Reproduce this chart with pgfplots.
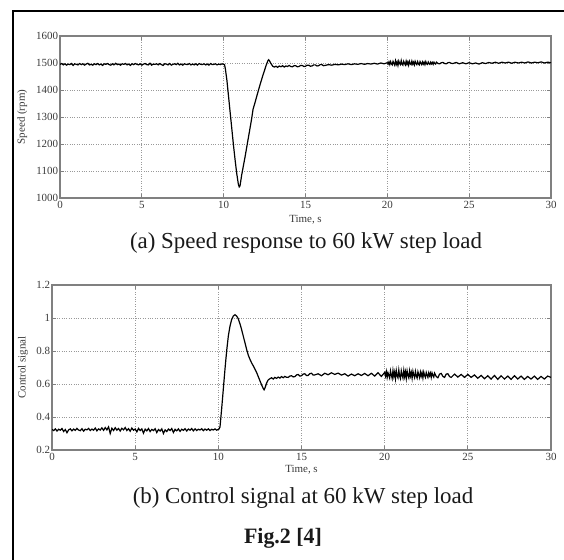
\documentclass[border=0pt]{standalone}
\usepackage{pgfplots}
\pgfplotsset{compat=1.18}
\usepackage{fontspec}
\setmainfont{Liberation Serif}
\definecolor{axgray}{HTML}{808080}
\definecolor{txtgray}{HTML}{3A3A3A}
\pgfplotsset{
  figstyle/.style={
    scale only axis,
    xmin=0, xmax=30,
    xtick={0,5,10,15,20,25,30},
    grid=major,
    major grid style={dotted, color=black!40, line width=0.7bp},
    axis line style={color=axgray, line width=1.2bp},
    tick style={color=axgray, line width=0.8bp},
    tick align=inside,
    major tick length=4bp,
    /pgf/number format/assume math mode=true,
    /pgf/number format/1000 sep={},
    tick label style={font=\fontsize{11}{13}\selectfont, text=txtgray},
    label style={font=\fontsize{11}{13}\selectfont, text=txtgray},
    yticklabel style={xshift=1.5bp},
  }
}
\begin{document}
\begin{tikzpicture}
\useasboundingbox (0,0) rectangle (564bp,560bp);
\draw[line width=1.2bp, black] (13bp,0bp) -- (13bp,549bp) -- (564bp,549bp);

% ---------- (a) speed ----------
\begin{axis}[figstyle,
  at={(60bp,362bp)}, anchor=south west,
  width=491bp, height=162bp,
  ymin=1000, ymax=1600,
  ytick={1000,1100,1200,1300,1400,1500,1600},
  xlabel={Time, s},
  xlabel style={at={(axis description cs:0.5,0)}, anchor=center, yshift=-22bp},
  ylabel={Speed (rpm)},
  ylabel style={at={(axis description cs:-0.077,0.5)}, anchor=center, rotate=0},
]
\addplot[black, line width=1.2bp] coordinates {
(0,1495)(0.1,1498)(0.2,1493)(0.3,1497)(0.4,1492)(0.5,1496)(0.6,1494)(0.7,1498)(0.8,1491)(0.9,1497)
(1.0,1495)(1.1,1493)(1.2,1498)(1.3,1494)(1.4,1497)(1.5,1492)(1.6,1496)(1.7,1499)(1.8,1493)(1.9,1495)
(2.0,1492)(2.1,1497)(2.2,1494)(2.3,1498)(2.4,1493)(2.5,1496)(2.6,1491)(2.7,1497)(2.8,1495)(2.9,1498)
(3.0,1494)(3.1,1492)(3.2,1497)(3.3,1493)(3.4,1499)(3.5,1494)(3.6,1496)(3.7,1492)(3.8,1497)(3.9,1495)
(4.0,1498)(4.1,1493)(4.2,1496)(4.3,1491)(4.4,1497)(4.5,1494)(4.6,1498)(4.7,1495)(4.8,1493)(4.9,1497)
(5.0,1492)(5.1,1496)(5.2,1498)(5.3,1494)(5.4,1493)(5.5,1499)(5.6,1492)(5.7,1496)(5.8,1495)(5.9,1497)
(6.0,1493)(6.1,1498)(6.2,1494)(6.3,1491)(6.4,1497)(6.5,1496)(6.6,1493)(6.7,1498)(6.8,1492)(6.9,1495)
(7.0,1497)(7.1,1494)(7.2,1499)(7.3,1493)(7.4,1496)(7.5,1492)(7.6,1497)(7.7,1495)(7.8,1494)(7.9,1498)
(8.0,1493)(8.1,1496)(8.2,1493)(8.3,1497)(8.4,1492)(8.5,1498)(8.6,1495)(8.7,1494)(8.8,1497)(8.9,1493)
(9.0,1496)(9.1,1492)(9.2,1498)(9.3,1494)(9.4,1495)(9.5,1497)(9.6,1493)(9.7,1496)(9.8,1494)(9.9,1497)
(10.0,1495)(10.05,1494)(10.1,1480)(10.2,1435)(10.3,1375)(10.4,1315)(10.5,1255)(10.6,1195)(10.7,1140)
(10.8,1090)(10.9,1050)(10.95,1041)(11.0,1045)(11.1,1085)(11.3,1150)(11.5,1220)(11.7,1290)(11.8,1330)
(11.9,1350)(12.0,1372)(12.2,1415)(12.4,1455)(12.6,1492)(12.7,1508)(12.75,1512)(12.8,1508)(12.9,1497)
(13.0,1488)(13.1,1485)
(13.2,1488)(13.3,1484)(13.4,1489)(13.5,1486)(13.6,1490)(13.7,1485)(13.8,1489)(13.9,1487)(14.0,1491)
(14.1,1487)(14.2,1486)(14.3,1490)(14.4,1490)(14.5,1486)(14.6,1487)(14.7,1491)(14.8,1491)(14.9,1487)
(15.0,1488)(15.1,1492)(15.2,1492)(15.3,1488)(15.4,1489)(15.5,1493)(15.6,1493)(15.7,1489)(15.8,1490)
(15.9,1494)(16.0,1494)(16.1,1490)(16.2,1491)(16.4,1494)(16.6,1492)(16.8,1495)(17.0,1493)(17.2,1496)
(17.4,1494)(17.6,1497)(17.8,1494)(18.0,1497)(18.2,1495)(18.4,1498)(18.6,1495)(18.8,1498)(19.0,1496)
(19.2,1499)(19.4,1496)(19.6,1500)(19.8,1497)(20.0,1501)
(20.05,1496)(20.1,1504)(20.15,1494)(20.2,1505)(20.25,1497)(20.3,1493)(20.35,1506)(20.4,1499)(20.45,1492)
(20.5,1508)(20.55,1495)(20.6,1504)(20.65,1491)(20.7,1507)(20.75,1498)(20.8,1494)(20.85,1509)(20.9,1496)
(20.95,1492)(21.0,1506)(21.05,1499)(21.1,1493)(21.15,1507)(21.2,1495)(21.25,1504)(21.3,1492)(21.35,1506)
(21.4,1497)(21.45,1494)(21.5,1507)(21.55,1496)(21.6,1503)(21.65,1493)(21.7,1506)(21.75,1498)(21.8,1494)
(21.85,1505)(21.9,1497)(21.95,1493)(22.0,1505)(22.05,1499)(22.1,1494)(22.15,1504)(22.2,1496)(22.25,1503)
(22.3,1494)(22.35,1505)(22.4,1497)(22.45,1495)(22.5,1504)(22.55,1498)(22.6,1495)(22.65,1503)(22.7,1497)
(22.75,1502)(22.8,1495)(22.85,1503)(22.9,1498)(22.95,1496)(23.0,1503)
(23.1,1498)(23.2,1497)(23.3,1501)(23.4,1502)(23.5,1498)(23.6,1497)(23.7,1501)(23.8,1502)(23.9,1499)
(24.0,1498)(24.2,1502)(24.4,1497)(24.6,1501)(24.8,1497)(25.0,1501)(25.2,1497)(25.4,1500)(25.6,1496)
(25.8,1501)(26.0,1498)(26.2,1502)(26.4,1499)(26.6,1503)(26.8,1499)(27.0,1503)(27.2,1500)(27.4,1503)
(27.6,1499)(27.8,1503)(28.0,1500)(28.2,1503)(28.4,1500)(28.6,1504)(28.8,1500)(29.0,1503)(29.2,1501)
(29.4,1504)(29.6,1500)(29.8,1503)(30.0,1501)
};
\end{axis}

% ---------- (b) control signal ----------
\begin{axis}[figstyle,
  at={(52bp,110bp)}, anchor=south west,
  width=499bp, height=165bp,
  ymin=0.2, ymax=1.2,
  ytick={0.2,0.4,0.6,0.8,1,1.2},
  yticklabels={0.2,0.4,0.6,0.8,1,1.2},
  xlabel={Time, s},
  xlabel style={at={(axis description cs:0.5,0)}, anchor=center, yshift=-20bp},
  ylabel={Control signal},
  ylabel style={at={(axis description cs:-0.058,0.5)}, anchor=center},
]
\addplot[black, line width=1.2bp] coordinates {
(0,0.325)(0.1,0.318)(0.2,0.328)(0.3,0.315)(0.4,0.326)(0.5,0.320)(0.6,0.330)(0.7,0.312)(0.8,0.324)(0.9,0.305)
(1.0,0.322)(1.1,0.328)(1.2,0.316)(1.3,0.327)(1.4,0.319)(1.5,0.331)(1.6,0.321)(1.7,0.317)(1.8,0.329)(1.9,0.314)
(2.0,0.326)(2.1,0.322)(2.2,0.331)(2.3,0.318)(2.4,0.327)(2.5,0.320)(2.6,0.333)(2.7,0.316)(2.8,0.328)(2.9,0.321)
(3.0,0.334)(3.1,0.319)(3.2,0.336)(3.3,0.322)(3.4,0.340)(3.5,0.300)(3.6,0.332)(3.7,0.318)(3.8,0.335)(3.9,0.320)
(4.0,0.330)(4.1,0.315)(4.2,0.332)(4.3,0.322)(4.4,0.336)(4.5,0.318)(4.6,0.329)(4.7,0.314)(4.8,0.333)(4.9,0.320)
(5.0,0.327)(5.1,0.310)(5.2,0.331)(5.3,0.318)(5.4,0.328)(5.5,0.302)(5.6,0.326)(5.7,0.316)(5.8,0.330)(5.9,0.312)
(6.0,0.325)(6.1,0.318)(6.2,0.329)(6.3,0.306)(6.4,0.324)(6.5,0.315)(6.6,0.328)(6.7,0.300)(6.8,0.322)(6.9,0.312)
(7.0,0.327)(7.1,0.318)(7.2,0.330)(7.3,0.306)(7.4,0.325)(7.5,0.316)(7.6,0.328)(7.7,0.313)(7.8,0.326)(7.9,0.319)
(8.0,0.329)(8.1,0.315)(8.2,0.327)(8.3,0.320)(8.4,0.330)(8.5,0.316)(8.6,0.328)(8.7,0.318)(8.8,0.326)(8.9,0.321)
(9.0,0.329)(9.1,0.317)(9.2,0.327)(9.3,0.320)(9.4,0.328)(9.5,0.318)(9.6,0.326)(9.7,0.321)(9.8,0.328)(9.9,0.320)
(10.0,0.325)(10.05,0.328)(10.1,0.34)(10.2,0.45)(10.3,0.57)(10.4,0.69)(10.5,0.80)(10.6,0.89)(10.7,0.95)
(10.8,0.99)(10.9,1.012)(11.0,1.02)(11.1,1.012)(11.2,0.995)(11.3,0.965)(11.4,0.93)(11.5,0.89)(11.6,0.85)
(11.7,0.81)(11.8,0.775)(11.9,0.75)(12.0,0.728)(12.1,0.71)(12.2,0.69)(12.3,0.67)(12.4,0.645)(12.5,0.62)
(12.6,0.595)(12.7,0.573)(12.75,0.565)(12.8,0.575)(12.9,0.605)(13.0,0.625)(13.1,0.632)
(13.2,0.638)(13.3,0.630)(13.4,0.640)(13.5,0.634)(13.6,0.642)(13.7,0.636)(13.8,0.645)(13.9,0.638)(14.0,0.646)
(14.1,0.641)(14.2,0.640)(14.3,0.648)(14.4,0.650)(14.5,0.643)(14.6,0.645)(14.7,0.655)(14.8,0.658)(14.9,0.648)
(15.0,0.650)(15.1,0.660)(15.2,0.662)(15.3,0.651)(15.4,0.652)(15.5,0.663)(15.6,0.665)(15.7,0.654)(15.8,0.655)
(16.0,0.662)(16.2,0.650)(16.4,0.665)(16.6,0.656)(16.8,0.668)(17.0,0.658)(17.2,0.666)(17.4,0.654)(17.6,0.662)
(17.8,0.648)(18.0,0.660)(18.2,0.650)(18.4,0.662)(18.6,0.652)(18.8,0.664)(19.0,0.650)(19.2,0.665)(19.4,0.648)
(19.6,0.668)(19.8,0.646)(20.0,0.670)
(20.05,0.648)(20.1,0.676)(20.15,0.640)(20.2,0.668)(20.25,0.652)(20.3,0.636)(20.35,0.680)(20.4,0.655)(20.45,0.634)
(20.5,0.682)(20.55,0.646)(20.6,0.672)(20.65,0.632)(20.7,0.681)(20.75,0.650)(20.8,0.637)(20.85,0.684)(20.9,0.648)
(20.95,0.633)(21.0,0.680)(21.05,0.655)(21.1,0.636)(21.15,0.682)(21.2,0.645)(21.25,0.674)(21.3,0.634)(21.35,0.679)
(21.4,0.652)(21.45,0.637)(21.5,0.680)(21.55,0.648)(21.6,0.670)(21.65,0.635)(21.7,0.677)(21.75,0.654)(21.8,0.638)
(21.85,0.676)(21.9,0.650)(21.95,0.636)(22.0,0.674)(22.05,0.656)(22.1,0.638)(22.15,0.672)(22.2,0.648)(22.25,0.669)
(22.3,0.637)(22.35,0.672)(22.4,0.652)(22.45,0.640)(22.5,0.670)(22.55,0.654)(22.6,0.640)(22.65,0.668)(22.7,0.650)
(22.75,0.666)(22.8,0.640)(22.85,0.667)(22.9,0.652)(22.95,0.642)(23.0,0.666)
(23.1,0.645)(23.2,0.638)(23.3,0.660)(23.4,0.664)(23.5,0.646)(23.6,0.640)(23.7,0.660)(23.8,0.662)(23.9,0.645)
(24.0,0.640)(24.2,0.660)(24.4,0.642)(24.6,0.658)(24.8,0.640)(25.0,0.658)(25.2,0.640)(25.4,0.655)(25.6,0.635)
(25.8,0.652)(26.0,0.632)(26.2,0.650)(26.4,0.630)(26.6,0.652)(26.8,0.628)(27.0,0.650)(27.2,0.630)(27.4,0.648)
(27.6,0.628)(27.8,0.650)(28.0,0.630)(28.2,0.648)(28.4,0.628)(28.6,0.646)(28.8,0.630)(29.0,0.648)(29.2,0.628)
(29.4,0.646)(29.6,0.630)(29.8,0.648)(30.0,0.640)
};
\end{axis}

\node[anchor=base, font=\fontsize{23}{27}\selectfont, text=black!90] at (306bp,311bp) {(a) Speed response to 60 kW step load};
\node[anchor=base, font=\fontsize{23}{27}\selectfont, text=black!90] at (303bp,56bp) {(b) Control signal at 60 kW step load};
\node[anchor=base, font=\fontsize{22}{26}\selectfont\bfseries, text=black!90] at (283bp,17bp) {Fig.2 [4]};
\end{tikzpicture}
\end{document}
